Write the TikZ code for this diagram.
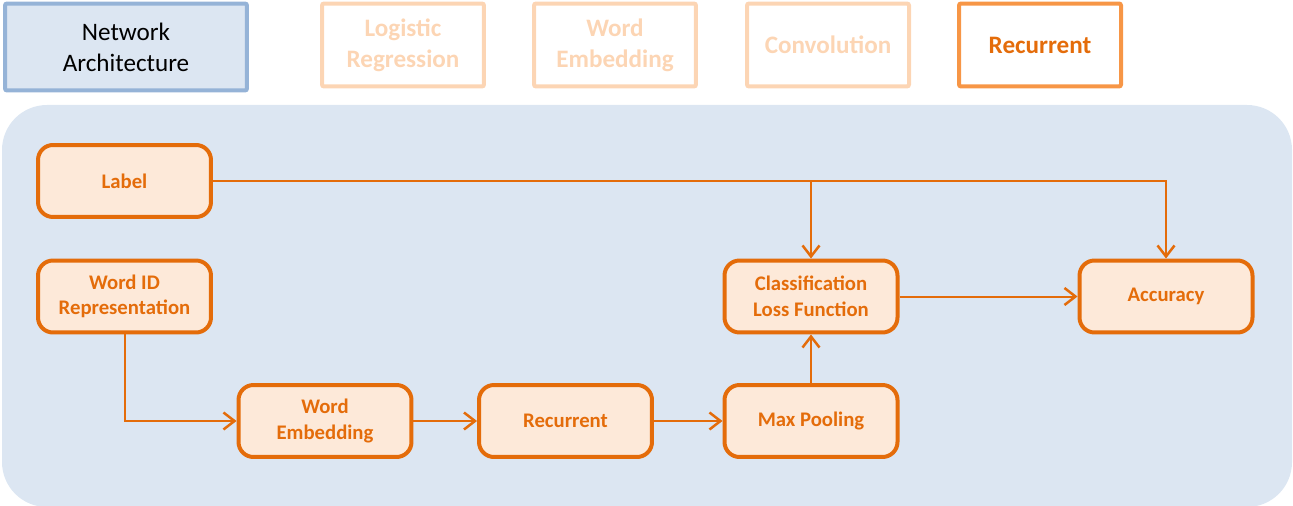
\documentclass[tikz,border=0pt]{standalone}
\usepackage{fontspec}
\setmainfont{Carlito}
\usetikzlibrary{arrows.meta}
\definecolor{panelblue}{HTML}{DCE6F2}
\definecolor{edgeblue}{HTML}{95B3D7}
\definecolor{darkorange}{HTML}{E46C0A}
\definecolor{midorange}{HTML}{F79646}
\definecolor{paleorange}{HTML}{FCD5B4}
\definecolor{boxfill}{HTML}{FDE9D9}
\tikzset{
  headbox/.style={draw, line width=0.08cm, minimum width=3.24cm, minimum height=1.66cm,
    align=center, font=\fontsize{14.3}{17.5}\selectfont\bfseries, rounded corners=0.04cm},
  stagebox/.style={draw=darkorange, fill=boxfill, line width=0.08cm, rounded corners=0.3cm,
    minimum width=3.46cm, minimum height=1.44cm, align=center, text=darkorange,
    font=\fontsize{11.8}{14.5}\selectfont\bfseries},
  link/.style={draw=darkorange, line width=0.04cm, -{Straight Barb[length=0.22cm, width=0.34cm, line width=0.05cm]}}
}
\begin{document}
\begin{tikzpicture}[x=0.02cm, y=-0.02cm]
  \useasboundingbox (0,0) rectangle (1293,506);
  % header row
  \node[headbox, draw=edgeblue, fill=panelblue, minimum width=4.84cm, minimum height=1.74cm,
    font=\fontsize{14.3}{17.5}\selectfont] (arch) at (126,47) {Network\\Architecture};
  \node[headbox, draw=paleorange, text=paleorange] (logreg) at (403,45) {Logistic\\Regression};
  \node[headbox, draw=paleorange, text=paleorange] (wordemb) at (615,45) {Word\\Embedding};
  \node[headbox, draw=paleorange, text=paleorange] (conv) at (828,45) {Convolution};
  \node[headbox, draw=midorange, text=darkorange] (recur) at (1040,45) {Recurrent};
  % panel
  \fill[panelblue, rounded corners=0.9cm] (2,105) rectangle (1292,507);
  % stages
  \node[stagebox] (label) at (124.5,181) {Label};
  \node[stagebox] (wordid) at (124.5,296.5) {Word ID\\Representation};
  \node[stagebox] (embed) at (325,421) {Word\\Embedding};
  \node[stagebox] (rnn) at (565.5,421) {Recurrent};
  \node[stagebox] (pool) at (811,421) {Max Pooling};
  \node[stagebox] (loss) at (811,296.5) {Classification\\Loss Function};
  \node[stagebox] (acc) at (1166,296.5) {Accuracy};
  % connectors
  \draw[link] (label.east) -| (loss.north);
  \draw[link] (label.east) -| (acc.north);
  \draw[link] (wordid.south) |- (embed.west);
  \draw[link] (embed) -- (rnn);
  \draw[link] (rnn) -- (pool);
  \draw[link] (pool) -- (loss);
  \draw[link] (loss) -- (acc);
\end{tikzpicture}
\end{document}
